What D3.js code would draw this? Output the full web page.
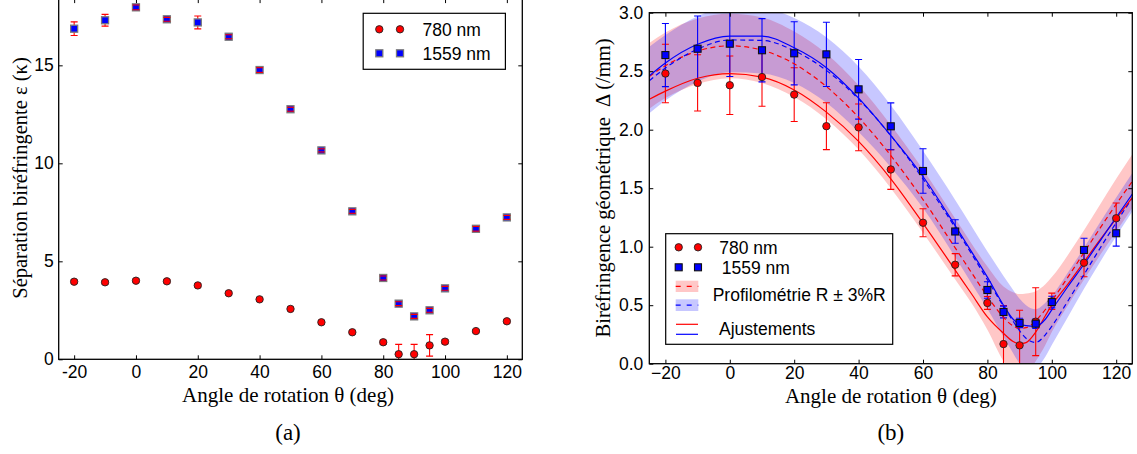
<!DOCTYPE html>
<html><head><meta charset="utf-8">
<script src="https://cdn.jsdelivr.net/npm/d3@7"></script>
<style>body{margin:0;background:#fff}</style>
</head><body>
<svg id="c" width="1137" height="454" xmlns="http://www.w3.org/2000/svg"></svg>
<script>
// ---------- data ----------
const angles = [-20,-10,0,10,20,30,40,50,60,70,80,85,90,95,100,110,120];
// panel (a) : Séparation biréfringente
const sep780     = [3.96,3.93,4.01,3.98,3.77,3.37,3.06,2.57,1.89,1.38,0.87,0.26,0.26,0.71,0.90,1.44,1.94];
const sep780Err  = [0.08,0.08,0.08,0.08,0.08,0.08,0.08,0.08,0.08,0.08,0.1,0.5,0.5,0.55,0.1,0.08,0.08];
const sep1559    = [16.87,17.3,17.96,17.35,17.19,16.46,14.76,12.76,10.66,7.55,4.15,2.84,2.19,2.5,3.62,6.66,7.24];
const sep1559Err = [0.35,0.3,0.12,0.1,0.33,0.1,0.12,0.1,0.08,0.1,0.1,0.1,0.1,0.1,0.1,0.12,0.1];
// panel (b) : Biréfringence géométrique
const bir780     = [2.48,2.40,2.38,2.45,2.30,2.03,2.02,1.66,1.205,0.846,0.519,0.168,0.157,0.359,0.533,0.863,1.243];
const bir780Err  = [0.25,0.24,0.25,0.25,0.23,0.2,0.2,0.17,0.12,0.095,0.055,0.33,0.3,0.29,0.07,0.12,0.13];
const bir1559    = [2.638,2.692,2.735,2.679,2.653,2.644,2.345,2.029,1.647,1.13,0.63,0.442,0.348,0.342,0.527,0.972,1.115];
const bir1559Err = [0.27,0.28,0.28,0.27,0.27,0.275,0.255,0.2,0.19,0.1,0.07,0.05,0.04,0.04,0.05,0.1,0.11];
// curves
const curveAng  = [-25,-20,-10,0,10,20,30,40,50,60,70,75,80,85,88,90,92,95,98,100,105,110,115,120,125];
const fit780    = [2.26,2.33,2.44,2.48,2.45,2.34,2.15,1.90,1.58,1.20,0.80,0.60,0.40,0.26,0.19,0.17,0.18,0.27,0.41,0.50,0.68,0.87,1.06,1.24,1.42];
const fit1559   = [2.46,2.57,2.73,2.80,2.80,2.70,2.53,2.27,1.95,1.60,1.18,0.96,0.74,0.50,0.38,0.34,0.325,0.32,0.38,0.46,0.66,0.85,1.05,1.25,1.45];
const prof780   = [2.455,2.547,2.672,2.717,2.68,2.563,2.369,2.105,1.779,1.403,0.99,0.781,0.576,0.396,0.322,0.301,0.308,0.367,0.463,0.537,0.74,0.95,1.159,1.363,1.558];
const prof1559  = [2.418,2.527,2.688,2.767,2.763,2.675,2.507,2.262,1.95,1.579,1.163,0.942,0.717,0.491,0.362,0.282,0.217,0.182,0.247,0.32,0.536,0.762,0.987,1.206,1.417];
const band780Lo = [2.18,2.27,2.39,2.44,2.40,2.28,2.09,1.83,1.50,1.12,0.72,0.52,0.29,0.02,-0.1,-0.14,-0.1,0.02,0.16,0.27,0.50,0.72,0.93,1.13,1.33];
const band780Hi = [2.74,2.83,2.95,2.99,2.96,2.84,2.65,2.38,2.04,1.66,1.24,1.03,0.83,0.66,0.61,0.595,0.60,0.62,0.68,0.74,0.93,1.14,1.36,1.58,1.79];
const band1559Lo= [2.14,2.25,2.41,2.49,2.48,2.40,2.23,1.98,1.68,1.33,0.91,0.69,0.47,0.23,0.09,0.0,-0.06,-0.04,0.06,0.16,0.40,0.64,0.87,1.09,1.30];
const band1559Hi= [2.71,2.81,2.97,3.05,3.04,2.955,2.79,2.54,2.21,1.82,1.40,1.18,0.96,0.75,0.63,0.555,0.50,0.465,0.52,0.58,0.78,0.99,1.21,1.42,1.63];
// ticks & labels
const xTicks = [-20,0,20,40,60,80,100,120];
const yTicksA = [0,5,10,15];
const yTicksB = [0,0.5,1.0,1.5,2.0,2.5,3.0];
const legendA = ["780 nm","1559 nm"];
const legendB = ["780 nm","1559 nm","Profilométrie R ± 3%R","Ajustements"];

// ---------- drawing ----------
const svg = d3.select("#c");
const RED="#ff0000", BLUE="#0000ff";
const sans = "'Liberation Sans', Arial, sans-serif";
const serif = "'Liberation Serif', 'Times New Roman', serif";
const TICKFS = 17.5, LEGFS = 17.5;

const xA = d3.scaleLinear().domain([-25,125]).range([58.7,522.3]);
const yA = d3.scaleLinear().domain([0,18.38]).range([359.3,-0.9]);
const xB = d3.scaleLinear().domain([-25,125]).range([649.3,1132.3]);
const yB = d3.scaleLinear().domain([0,3]).range([363.7,12.7]);

const defs = svg.append("defs");
function clip(id,x,y){
  defs.append("clipPath").attr("id",id).append("rect")
   .attr("x",x.range()[0]).attr("y",y.range()[1])
   .attr("width",x.range()[1]-x.range()[0]).attr("height",y.range()[0]-y.range()[1]);
}
clip("clipA",xA,yA); clip("clipB",xB,yB);

function axes(x,y,yt,fmtX,fmtY,padX,padY){
  const g = svg.append("g");
  const y0=y.range()[0], y1=y.range()[1], x0=x.range()[0], x1=x.range()[1];
  g.append("g").attr("transform",`translate(0,${y0})`)
   .call(d3.axisBottom(x).tickValues(xTicks).tickSizeInner(-4).tickSizeOuter(0).tickPadding(padX).tickFormat(fmtX));
  g.append("g").attr("transform",`translate(0,${y1})`)
   .call(d3.axisTop(x).tickValues(xTicks).tickSizeInner(-4).tickSizeOuter(0).tickFormat(""));
  g.append("g").attr("transform",`translate(${x0},0)`)
   .call(d3.axisLeft(y).tickValues(yt).tickSizeInner(-4).tickSizeOuter(0).tickPadding(padY).tickFormat(fmtY));
  g.append("g").attr("transform",`translate(${x1},0)`)
   .call(d3.axisRight(y).tickValues(yt).tickSizeInner(-4).tickSizeOuter(0).tickFormat(""));
  g.selectAll(".domain").remove();
  g.selectAll("text").attr("font-family",sans).attr("font-size",TICKFS).attr("fill","#000");
  g.selectAll(".tick line").attr("stroke","#000").attr("stroke-width",1);
  svg.append("rect").attr("x",x0).attr("y",y1).attr("width",x1-x0).attr("height",y0-y1)
   .attr("fill","none").attr("stroke","#000").attr("stroke-width",1.3);
}

function errBars(g,x,y,xs,vs,es,color,cap,stemOnly,capOnly){
  xs.forEach((a,i)=>{
    const cx=x(a), lo=y(vs[i]-es[i]), hi=y(vs[i]+es[i]);
    if(!capOnly) g.append("line").attr("x1",cx).attr("x2",cx).attr("y1",lo).attr("y2",hi)
      .attr("stroke",color).attr("stroke-width",1.1);
    if(!stemOnly){
      [lo,hi].forEach(yy=>g.append("line").attr("x1",cx-cap).attr("x2",cx+cap).attr("y1",yy).attr("y2",yy)
        .attr("stroke",color).attr("stroke-width",1.1));
    }
  });
}
function circles(g,x,y,xs,vs,r){
  g.selectAll(null).data(xs.map((a,i)=>[a,vs[i]])).join("circle")
   .attr("cx",d=>x(d[0])).attr("cy",d=>y(d[1])).attr("r",r)
   .attr("fill",RED).attr("stroke","#222").attr("stroke-width",0.9);
}
function squares(g,x,y,xs,vs,s,stroke,sw){
  g.selectAll(null).data(xs.map((a,i)=>[a,vs[i]])).join("rect")
   .attr("x",d=>x(d[0])-s/2).attr("y",d=>y(d[1])-s/2).attr("width",s).attr("height",s)
   .attr("fill",BLUE).attr("stroke",stroke).attr("stroke-width",sw);
}

// ----- panel (a) -----
const gA = svg.append("g").attr("clip-path","url(#clipA)");
errBars(gA,xA,yA,angles,sep780,sep780Err,RED,3.5);
circles(gA,xA,yA,angles,sep780,3.7);
errBars(gA,xA,yA,angles,sep1559,sep1559Err,RED,3.5,true,false);
squares(gA,xA,yA,angles,sep1559,7,"#7a7a7a",1.3);
errBars(gA,xA,yA,angles,sep1559,sep1559Err,RED,3.5,false,true);
axes(xA,yA,yTicksA,d=>d<0?"-"+Math.abs(d):String(d),d=>String(d),6,5);

// legend (a)
svg.append("rect").attr("x",363.2).attr("y",13.3).attr("width",142.2).attr("height",56)
  .attr("fill","#fff").attr("stroke","#000").attr("stroke-width",1.2);
[379.3,400].forEach(cx=>{
  svg.append("circle").attr("cx",cx).attr("cy",29.3).attr("r",3.7).attr("fill",RED).attr("stroke","#222").attr("stroke-width",0.9);
  svg.append("rect").attr("x",cx-3.5).attr("y",49.8).attr("width",7).attr("height",7).attr("fill",BLUE).attr("stroke","#7a7a7a").attr("stroke-width",1.3);
});
svg.append("text").attr("x",422.5).attr("y",35.5).text(legendA[0]).attr("font-family",sans).attr("font-size",LEGFS);
svg.append("text").attr("x",422.5).attr("y",59.5).text(legendA[1]).attr("font-family",sans).attr("font-size",LEGFS);

svg.append("text").attr("transform","translate(27,178) rotate(-90)").attr("text-anchor","middle")
  .attr("font-family",serif).attr("font-size",20.5).text("Séparation biréfringente ε (κ)");
svg.append("text").attr("x",288).attr("y",402).attr("text-anchor","middle")
  .attr("font-family",serif).attr("font-size",21).text("Angle de rotation θ (deg)");
svg.append("text").attr("x",288).attr("y",440).attr("text-anchor","middle")
  .attr("font-family",serif).attr("font-size",23).text("(a)");

// ----- panel (b) -----
const gB = svg.append("g").attr("clip-path","url(#clipB)");
const area = (lo,hi)=>d3.area().x((d,i)=>xB(curveAng[i])).y0((d,i)=>yB(lo[i])).y1((d,i)=>yB(hi[i])).curve(d3.curveMonotoneX);
const line = vals=>d3.line().x((d,i)=>xB(curveAng[i])).y((d,i)=>yB(vals[i])).curve(d3.curveMonotoneX);
gB.append("path").attr("d",area(band780Lo,band780Hi)(curveAng)).attr("fill","rgba(255,0,0,0.22)");
gB.append("path").attr("d",area(band1559Lo,band1559Hi)(curveAng)).attr("fill","rgba(0,0,255,0.22)");
errBars(gB,xB,yB,angles,bir780,bir780Err,RED,3.5);
errBars(gB,xB,yB,angles,bir1559,bir1559Err,BLUE,3.5);
gB.append("path").attr("d",line(prof780)(curveAng)).attr("fill","none").attr("stroke",RED).attr("stroke-width",1.2).attr("stroke-dasharray","5,3.5");
gB.append("path").attr("d",line(prof1559)(curveAng)).attr("fill","none").attr("stroke",BLUE).attr("stroke-width",1.2).attr("stroke-dasharray","5,3.5");
gB.append("path").attr("d",line(fit780)(curveAng)).attr("fill","none").attr("stroke",RED).attr("stroke-width",1.2);
gB.append("path").attr("d",line(fit1559)(curveAng)).attr("fill","none").attr("stroke",BLUE).attr("stroke-width",1.2);
circles(gB,xB,yB,angles,bir780,3.7);
squares(gB,xB,yB,angles,bir1559,7,"#111",1.1);
axes(xB,yB,yTicksB,d3.format(""),d3.format(".1f"),3,6);

// legend (b)
svg.append("rect").attr("x",665.7).attr("y",233.7).attr("width",227).attr("height",110.6)
  .attr("fill","#fff").attr("stroke","#000").attr("stroke-width",1.2);
[678.7,698].forEach(cx=>{
  svg.append("circle").attr("cx",cx).attr("cy",247.3).attr("r",3.7).attr("fill",RED).attr("stroke","#222").attr("stroke-width",0.9);
  svg.append("rect").attr("x",cx-3.5).attr("y",263.8).attr("width",7).attr("height",7).attr("fill",BLUE).attr("stroke","#111").attr("stroke-width",1.1);
});
svg.append("rect").attr("x",675.7).attr("y",280.7).attr("width",22.6).attr("height",11.3).attr("fill","rgba(255,0,0,0.22)");
svg.append("line").attr("x1",675.7).attr("x2",698.3).attr("y1",286.3).attr("y2",286.3).attr("stroke",RED).attr("stroke-width",1.2).attr("stroke-dasharray","5,6");
svg.append("rect").attr("x",675.7).attr("y",299.3).attr("width",22.6).attr("height",11.7).attr("fill","rgba(0,0,255,0.22)");
svg.append("line").attr("x1",675.7).attr("x2",698.3).attr("y1",305.2).attr("y2",305.2).attr("stroke",BLUE).attr("stroke-width",1.2).attr("stroke-dasharray","5,6");
svg.append("line").attr("x1",676).attr("x2",698).attr("y1",324.3).attr("y2",324.3).attr("stroke",RED).attr("stroke-width",1.2);
svg.append("line").attr("x1",676).attr("x2",698).attr("y1",334.3).attr("y2",334.3).attr("stroke",BLUE).attr("stroke-width",1.2);
svg.append("text").attr("x",719.3).attr("y",253.5).text(legendB[0]).attr("font-family",sans).attr("font-size",LEGFS);
svg.append("text").attr("x",721.7).attr("y",273.5).text(legendB[1]).attr("font-family",sans).attr("font-size",LEGFS);
svg.append("text").attr("x",712.7).attr("y",301).text(legendB[2]).attr("font-family",sans).attr("font-size",LEGFS);
svg.append("text").attr("x",719).attr("y",335).text(legendB[3]).attr("font-family",sans).attr("font-size",LEGFS);

svg.append("text").attr("transform","translate(610,188) rotate(-90)").attr("text-anchor","middle")
  .attr("font-family",serif).attr("font-size",20.5).text("Biréfringence géométrique\u00a0\u00a0Δ (/mm)");
svg.append("text").attr("x",890.8).attr("y",403).attr("text-anchor","middle")
  .attr("font-family",serif).attr("font-size",21).text("Angle de rotation θ (deg)");
svg.append("text").attr("x",890.8).attr("y",440).attr("text-anchor","middle")
  .attr("font-family",serif).attr("font-size",23).text("(b)");
</script>
</body></html>
